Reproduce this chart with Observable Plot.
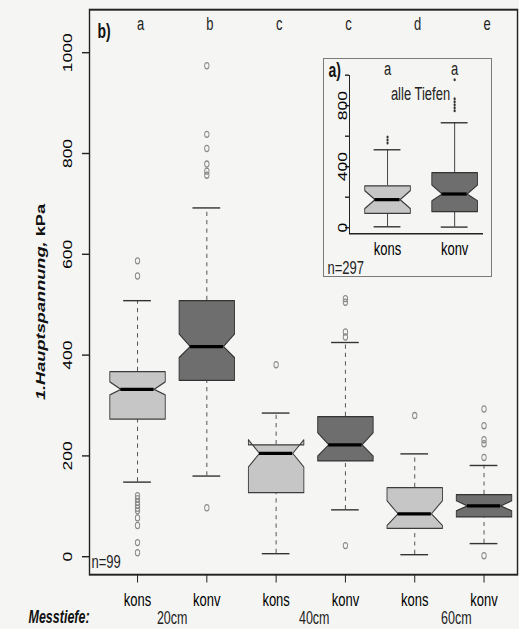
<!DOCTYPE html>
<html><head><meta charset="utf-8">
<script src="https://cdn.jsdelivr.net/npm/d3@7"></script>
<script src="https://cdn.jsdelivr.net/npm/@observablehq/plot@0.6"></script>
<style>
body{margin:0;background:#f5f5f3;}
#wrap{position:relative;width:519px;height:629px;overflow:hidden;background:#f5f5f3;font-family:'Liberation Sans',Arial,sans-serif;}
#inset{position:absolute;left:323px;top:58px;width:167px;height:217px;border:1px solid #7a7a7a;background:#f5f5f3;}
</style></head><body><div id="wrap"><div id="inset"></div></div>
<script>
// ---- main panel data (b) ----
const treatments = ["kons","konv","kons","konv","kons","konv"];
const depths = ["20cm","40cm","60cm"];
const sigLetters = ["a","b","c","c","d","e"];
const whiskerLow  = [148,160,6,93,4,26];
const hingeLow    = [273,350,127,190,56,79];
const notchLow    = [321,395,178,200,62,91];
const medians     = [332,417,205,222,85,101];
const notchHigh   = [347,442,232,246,111,111];
const hingeHigh   = [367,508,222,278,137,123];
const whiskerHigh = [508,692,285,425,204,181];
const outliers = [
  [587,557,121,115,108,102,96,91,77,62,28,8],
  [974,838,810,779,765,757,97],
  [381],
  [512,505,446,436,22],
  [280],
  [293,260,232,224,197,2]
];
const yTicks = [0,200,400,600,800,1000];
const yLabel = "1.Hauptspannung, kPa";
const panelMain = "b)";
const nMain = "n=99";
const depthTitle = "Messtiefe:";

// ---- inset data (a) ----
const insetTreatments = ["kons","konv"];
const insetLetters = ["a","a"];
const insetWhiskerLow  = [6,4];
const insetHingeLow    = [94,105];
const insetNotchLow    = [125,177];
const insetMedians     = [184,221];
const insetNotchHigh   = [243,280];
const insetHingeHigh   = [275,361];
const insetWhiskerHigh = [511,688];
const insetOutliers = [[595,575,555],[970,846,826,806,786,767]];
const insetTicks = [0,200,400,600,800,1000];
const insetLabeledTicks = [0,400,800];
const insetNote = "alle Tiefen";
const panelInset = "a)";
const nInset = "n=297";

const KONS = "#c6c6c6", KONV = "#6e6e6e";
const FONT = "'Liberation Sans',Arial,sans-serif";
const S = 629/449; // vertical stretch of the scanned figure

function makeBoxes(tr, wl, hl, nl, md, nh, hh, wh, out) {
  return tr.map((t,i)=>({i, x:i+1, t, wl:wl[i], hl:hl[i], nl:nl[i], md:md[i], nh:nh[i], hh:hh[i], wh:wh[i], out:out[i]}));
}
function notchPoly(b, w, nf) {
  const x = b.x;
  return [[x-w,b.hl],[x-w,b.nl],[x-nf*w,b.md],[x-w,b.nh],[x-w,b.hh],[x+w,b.hh],[x+w,b.nh],[x+nf*w,b.md],[x+w,b.nl],[x+w,b.hl],[x-w,b.hl]]
    .map(([px,py])=>({id:b.i, t:b.t, px, py}));
}
function boxMarks(B, {w, nf, cap, dash, whiskerStroke, capStroke, medW}) {
  const poly = B.flatMap(b=>notchPoly(b,w,nf));
  return [
    Plot.ruleX(B, {x:"x", y1:"hh", y2:"wh", stroke:whiskerStroke, strokeWidth:1, strokeDasharray:dash}),
    Plot.ruleX(B, {x:"x", y1:"wl", y2:"hl", stroke:whiskerStroke, strokeWidth:1, strokeDasharray:dash}),
    Plot.ruleY(B, {y:"wh", x1:b=>b.x-cap, x2:b=>b.x+cap, stroke:capStroke, strokeWidth:1}),
    Plot.ruleY(B, {y:"wl", x1:b=>b.x-cap, x2:b=>b.x+cap, stroke:capStroke, strokeWidth:1}),
    Plot.line(poly.filter(p=>p.t==="kons"), {x:"px", y:"py", z:"id", fill:KONS, stroke:"#3c3c3c", strokeWidth:0.9, curve:"linear"}),
    Plot.line(poly.filter(p=>p.t==="konv"), {x:"px", y:"py", z:"id", fill:KONV, stroke:"#333", strokeWidth:0.9, curve:"linear"}),
    Plot.ruleY(B, {y:"md", x1:b=>b.x-nf*w, x2:b=>b.x+nf*w, stroke:"#000", strokeWidth:medW})
  ];
}
function stretch(svg, w, h) {
  svg.setAttribute("width", w);
  svg.setAttribute("height", h);
  svg.setAttribute("preserveAspectRatio", "none");
  svg.style.cssText = `display:block;width:${w}px;height:${h}px;max-width:none;background:transparent;overflow:visible;font-family:${FONT};`;
}

// ---- main chart ----
const B = makeBoxes(treatments, whiskerLow, hingeLow, notchLow, medians, notchHigh, hingeHigh, whiskerHigh, outliers);
const mainOut = B.flatMap(b=>b.out.map(v=>({x:b.x, v})));
const H = 449;
const main = Plot.plot({
  width:519, height:H,
  marginLeft:89, marginRight:2, marginTop:9/S, marginBottom:H-574/S,
  x:{domain:[0.307,6.483], label:null},
  y:{domain:[-35.7,1085.3], label:null},
  marks:[
    ...boxMarks(B, {w:0.4, nf:0.6, cap:0.2, dash:"3,3", whiskerStroke:"#555", capStroke:"#333", medW:2.3}),
    Plot.dot(mainOut, {x:"x", y:"v", r:2.2, stroke:"#8a8a8a", strokeWidth:0.9, fill:"none"}),
    Plot.frame({stroke:"#222", strokeWidth:1.4}),
    Plot.axisY({ticks:yTicks, tickFormat:d=>String(d), tickSize:7, tickPadding:14.5, tickRotate:-90,
      textAnchor:"middle", lineAnchor:"middle", fontSize:12.5, label:null, stroke:"#222"}),
    Plot.axisX({ticks:[1,2,3,4,5,6], tickFormat:d=>treatments[d-1], tickSize:6, tickPadding:7,
      fontSize:13, label:null, stroke:"#222"}),
    Plot.text(B, {x:"x", text:b=>sigLetters[b.i], frameAnchor:"top", dy:10, dx:3, fontSize:13, lineAnchor:"middle", fill:"#222"}),
    Plot.text([panelMain], {text:d=>d, frameAnchor:"top-left", dx:8, dy:15.7, textAnchor:"start", lineAnchor:"middle", fontWeight:"bold", fontSize:14, fill:"#111"}),
    Plot.text([nMain], {text:d=>d, frameAnchor:"bottom-left", dx:2, dy:-8.6, textAnchor:"start", lineAnchor:"middle", fontSize:13, fill:"#222"}),
    Plot.text([depthTitle], {text:d=>d, frameAnchor:"bottom-left", dx:-61, dy:30.5, textAnchor:"start", lineAnchor:"middle", fontWeight:"bold", fontStyle:"italic", fontSize:12.5, fill:"#111"}),
    Plot.text(depths, {x:(d,i)=>2*i+1.5+0.05*i, text:d=>d, frameAnchor:"bottom", dy:31, lineAnchor:"middle", fontSize:12.5, fill:"#222"}),
    Plot.text([yLabel], {text:d=>d, frameAnchor:"left", dx:-49, dy:7, rotate:-90, textAnchor:"middle", lineAnchor:"middle", fontWeight:"bold", fontSize:13, fill:"#111"})
  ]
});
stretch(main, 519, 629);
const wrap = document.getElementById("wrap");
wrap.insertBefore(main, document.getElementById("inset"));

// mixed style y label: italic name, upright unit
const ns = "http://www.w3.org/2000/svg";
const yl = [...main.querySelectorAll("text")].find(e=>e.textContent===yLabel);
if (yl) {
  const k = yLabel.indexOf(",")+1;
  yl.textContent = "";
  const s1 = document.createElementNS(ns,"tspan"); s1.setAttribute("font-style","italic"); s1.textContent = yLabel.slice(0,k);
  const s2 = document.createElementNS(ns,"tspan"); s2.textContent = yLabel.slice(k);
  yl.appendChild(s1); yl.appendChild(s2);
}

// ---- inset chart ----
const IB = makeBoxes(insetTreatments, insetWhiskerLow, insetHingeLow, insetNotchLow, insetMedians, insetNotchHigh, insetHingeHigh, insetWhiskerHigh, insetOutliers);
const insetOut = IB.flatMap(b=>b.out.map(v=>({x:b.x, v})));
const IH = 217/S;
const ixDomain = [0.433,2.43], iyDomain = [-39.3,996.7];
const inset = Plot.plot({
  width:167, height:IH,
  marginLeft:25, marginRight:8, marginTop:16/S, marginBottom:43/S,
  x:{domain:ixDomain, label:null},
  y:{domain:iyDomain, label:null},
  marks:[
    ...boxMarks(IB, {w:0.34, nf:0.55, cap:0.2, dash:null, whiskerStroke:"#444", capStroke:"#333", medW:2.3}),
    Plot.dot(insetOut, {x:"x", y:"v", r:1.1, fill:"#333", stroke:"none"}),
    Plot.ruleX([ixDomain[0]], {stroke:"#222", strokeWidth:1}),
    Plot.ruleY([iyDomain[0]], {stroke:"#222", strokeWidth:1}),
    Plot.axisY({ticks:insetTicks, tickFormat:d=>insetLabeledTicks.includes(d)?String(d):"", tickSize:4, tickPadding:3,
      tickRotate:-90, textAnchor:"middle", lineAnchor:"middle", fontSize:12.5, label:null, stroke:"#222"}),
    Plot.axisX({ticks:[1,2], tickFormat:d=>insetTreatments[d-1], tickSize:0, tickPadding:6, fontSize:13, label:null}),
    Plot.text(IB, {x:"x", text:b=>insetLetters[b.i], frameAnchor:"top", dy:-5, fontSize:13, lineAnchor:"middle", fill:"#222"}),
    Plot.text([panelInset], {text:d=>d, frameAnchor:"top-left", dx:-21, dy:-3.6, textAnchor:"start", lineAnchor:"middle", fontWeight:"bold", fontSize:14, fill:"#111"}),
    Plot.text([insetNote], {text:d=>d, frameAnchor:"top-left", dx:71, dy:12.9, textAnchor:"middle", lineAnchor:"middle", fontSize:13, fill:"#222"}),
    Plot.text([nInset], {text:d=>d, frameAnchor:"bottom-left", dx:-22, dy:24.3, textAnchor:"start", lineAnchor:"middle", fontSize:13, fill:"#222"})
  ]
});
stretch(inset, 167, 217);
document.getElementById("inset").appendChild(inset);
</script>
</body></html>
